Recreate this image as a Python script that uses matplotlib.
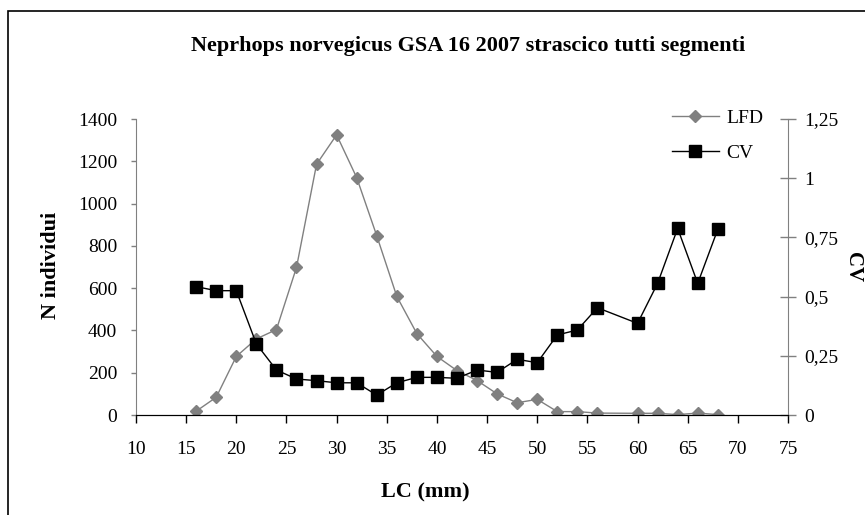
import matplotlib.pyplot as plt
from matplotlib.patches import Rectangle
from matplotlib.lines import Line2D

lc = [16, 18, 20, 22, 24, 26, 28, 30, 32, 34, 36, 38, 40, 42, 44, 46, 48, 50,
      52, 54, 56, 60, 62, 64, 66, 68]
lfd = [18, 84, 277, 360, 404, 698, 1186, 1325, 1123, 848, 561, 385, 277, 210,
       163, 100, 58, 74, 16, 16, 9, 8, 8, 2, 9, 2]
cv = [0.542, 0.525, 0.525, 0.300, 0.190, 0.152, 0.145, 0.136, 0.136, 0.084,
      0.136, 0.159, 0.159, 0.155, 0.190, 0.180, 0.235, 0.221, 0.338, 0.359,
      0.453, 0.387, 0.556, 0.788, 0.556, 0.784]
x_ticks = list(range(10, 80, 5))
left_ticks = list(range(0, 1600, 200))
right_ticks = [0, 0.25, 0.5, 0.75, 1, 1.25]
right_labels = ["0", "0,25", "0,5", "0,75", "1", "1,25"]

plt.rcParams['font.family'] = ['Liberation Serif', 'DejaVu Serif']

W, H = 865, 515
fig = plt.figure(figsize=(W / 100, H / 100), dpi=100)
# outer chart border (runs off the right and bottom edges)
fig.patches.append(Rectangle((8 / W, -0.1), 1.2, 1.1 - 11 / H,
                             transform=fig.transFigure, fill=False,
                             edgecolor='black', linewidth=1.2, clip_on=False))

ax = fig.add_axes([136 / W, 1 - 415 / H, (788 - 136) / W, (415 - 119) / H])
ax2 = ax.twinx()

ax.plot(lc, lfd, color='#808080', linewidth=1, marker='D', markersize=6.5,
        markerfacecolor='#808080', markeredgecolor='#808080', zorder=2)
ax2.plot(lc, cv, color='black', linewidth=1, marker='s', markersize=8,
         markerfacecolor='black', zorder=3)

ax.set_xlim(10, 75)
ax.set_ylim(0, 1400)
ax2.set_ylim(0, 1.25)
ax.set_xticks(x_ticks)
ax.set_yticks(left_ticks)
ax2.set_yticks(right_ticks)
ax2.set_yticklabels(right_labels)

for a in (ax, ax2):
    a.spines['top'].set_visible(False)
    a.spines['left'].set_color('#808080')
    a.spines['right'].set_color('#808080')
    a.spines['bottom'].set_color('black')
ax2.spines['left'].set_visible(False)
ax.spines['right'].set_visible(False)

ax.tick_params(axis='x', direction='out', length=5.5, width=1, labelsize=14,
               pad=13, color='black')
ax.tick_params(axis='y', direction='out', length=3.5, width=1, labelsize=14,
               color='#808080', pad=10)
ax2.tick_params(axis='y', direction='inout', length=11, width=1, labelsize=14,
                color='#808080', pad=6)

fig.text(468 / W, 1 - 51 / H,
         "Neprhops norvegicus GSA 16 2007 strascico tutti segmenti",
         ha='center', va='baseline', fontsize=16, fontweight='bold')
fig.text(425 / W, 1 - 497 / H, "LC (mm)", ha='center', va='baseline',
         fontsize=16, fontweight='bold')
fig.text(51 / W, 1 - 265 / H, "N individui", ha='center', va='center',
         rotation=90, fontsize=16, fontweight='bold')
fig.text(853 / W, 1 - 267 / H, "CV", ha='center', va='center',
         rotation=-90, fontsize=15, fontweight='bold')

handles = [Line2D([], [], color='#808080', linewidth=1, marker='D',
                  markersize=6.5, markerfacecolor='#808080',
                  markeredgecolor='#808080'),
           Line2D([], [], color='black', linewidth=1, marker='s',
                  markersize=8, markerfacecolor='black')]
fig.legend(handles, ["LFD", "CV"], loc='upper left',
           bbox_to_anchor=(672 / W, 1 - 109 / H), frameon=False,
           fontsize=14, handlelength=2.4, handletextpad=0.4, labelspacing=0.9,
           borderaxespad=0, borderpad=0)

plt.savefig("out.png", dpi=100)
